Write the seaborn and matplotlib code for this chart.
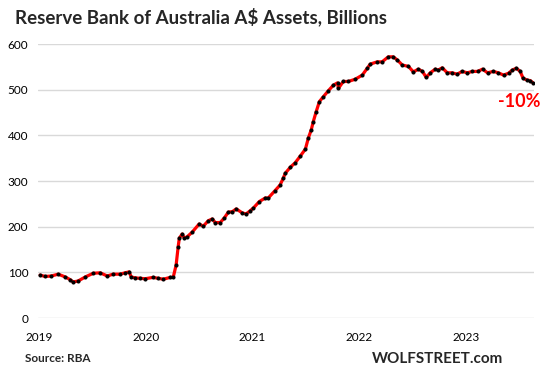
import matplotlib
matplotlib.use("Agg")
import matplotlib.pyplot as plt
import matplotlib.dates as mdates
import pandas as pd
import seaborn as sns

# RBA total assets, A$ billions
dates = [
    "2019-01-04", "2019-01-21", "2019-02-11", "2019-03-07", "2019-03-31",
    "2019-04-17", "2019-04-27", "2019-05-14", "2019-06-08", "2019-07-05",
    "2019-07-29", "2019-08-22", "2019-09-11", "2019-10-05", "2019-10-22",
    "2019-11-05", "2019-11-12", "2019-11-25", "2019-12-12", "2019-12-30",
    "2020-01-26", "2020-02-12", "2020-03-01", "2020-03-25", "2020-04-04",
    "2020-04-14", "2020-04-21", "2020-04-25", "2020-05-05", "2020-05-12",
    "2020-05-22", "2020-06-08", "2020-07-02", "2020-07-16", "2020-08-02",
    "2020-08-16", "2020-08-26", "2020-09-12", "2020-09-26", "2020-10-10",
    "2020-10-24", "2020-11-06", "2020-11-27", "2020-12-10", "2020-12-24",
    "2021-01-04", "2021-01-24", "2021-02-14", "2021-02-24", "2021-03-19",
    "2021-04-05", "2021-04-16", "2021-04-23", "2021-05-10", "2021-05-27",
    "2021-06-14", "2021-07-01", "2021-07-11", "2021-07-21", "2021-07-28",
    "2021-08-07", "2021-08-18", "2021-09-01", "2021-09-18", "2021-10-05",
    "2021-10-19", "2021-10-22", "2021-11-08", "2021-11-25", "2021-12-19",
    "2022-01-12", "2022-01-29", "2022-02-08", "2022-03-04", "2022-03-21",
    "2022-04-11", "2022-04-28", "2022-05-12", "2022-05-29", "2022-06-19",
    "2022-07-06", "2022-07-23", "2022-08-06", "2022-08-19", "2022-09-02",
    "2022-09-19", "2022-09-29", "2022-10-13", "2022-10-30", "2022-11-16",
    "2022-12-03", "2022-12-20", "2023-01-07", "2023-01-24", "2023-02-11",
    "2023-02-28", "2023-03-17", "2023-04-06", "2023-04-23", "2023-05-11",
    "2023-05-28", "2023-06-10", "2023-06-24", "2023-07-07", "2023-07-17",
    "2023-07-31", "2023-08-10", "2023-08-20",
]
assets = [
    94, 91, 92, 96, 90,
    84, 79, 81, 90, 98,
    99, 92, 96, 96, 99,
    101, 90, 88, 87, 86,
    89, 87, 85, 89, 89,
    116, 156, 175, 184, 175,
    178, 188, 206, 201, 213,
    217, 209, 209, 219, 232,
    233, 239, 230, 228, 235,
    241, 255, 263, 263, 279,
    291, 306, 317, 330, 340,
    355, 370, 394, 412, 430,
    452, 474, 485, 498, 510,
    515, 503, 518, 518, 523,
    532, 547, 556, 561, 561,
    572, 572, 565, 554, 551,
    539, 545, 540, 527, 537,
    545, 543, 548, 537, 537,
    534, 540, 537, 540, 540,
    545, 537, 540, 537, 532,
    536, 543, 547, 540, 525,
    521, 520, 515,
]
year_ticks = ["2019-01-01", "2020-01-01", "2021-01-01", "2022-01-01", "2023-01-01"]
y_ticks = [0, 100, 200, 300, 400, 500, 600]

df = pd.DataFrame({"date": pd.to_datetime(dates), "assets": assets})

sns.set_style("white")
plt.rcParams["font.family"] = ["Lato", "DejaVu Sans"]

fig = plt.figure(figsize=(5.44, 3.70), dpi=100)
ax = fig.add_axes([0.070, 0.1405, 0.912, 0.7405])

sns.lineplot(data=df, x="date", y="assets", ax=ax, color="#ff0000",
             linewidth=2.3, marker="o", markersize=2.2,
             markerfacecolor="black", markeredgecolor="black", zorder=3)

ax.set_ylim(0, 600)
ax.set_xlim(pd.Timestamp("2018-12-28"), pd.Timestamp("2023-08-24"))
ax.set_yticks(y_ticks)
ax.set_xticks(pd.to_datetime(year_ticks))
ax.xaxis.set_major_formatter(mdates.DateFormatter("%Y"))
ax.grid(axis="y", color="#d9d9d9", linewidth=1)
ax.grid(axis="x", visible=False)
for s in ax.spines.values():
    s.set_visible(False)
ax.tick_params(axis="y", length=0, pad=7, labelsize=8.5, colors="black")
ax.tick_params(axis="x", length=0, pad=10, labelsize=8.5, colors="black")
ax.set_xlabel("")
ax.set_ylabel("")

fig.text(0.028, 0.955, "Reserve Bank of Australia A$ Assets, Billions",
         fontsize=13.5, fontweight="bold", ha="left", va="center")
fig.text(0.954, 0.727, "-10%", fontsize=13, fontweight="bold",
         color="#ff0000", ha="center", va="center")
fig.text(0.046, 0.03, "Source: RBA", fontsize=8.5, fontweight="bold",
         ha="left", va="center")
fig.text(0.925, 0.03, "WOLFSTREET.com", fontsize=11, fontweight="bold",
         ha="right", va="center")

fig.savefig("out.png", dpi=100)
